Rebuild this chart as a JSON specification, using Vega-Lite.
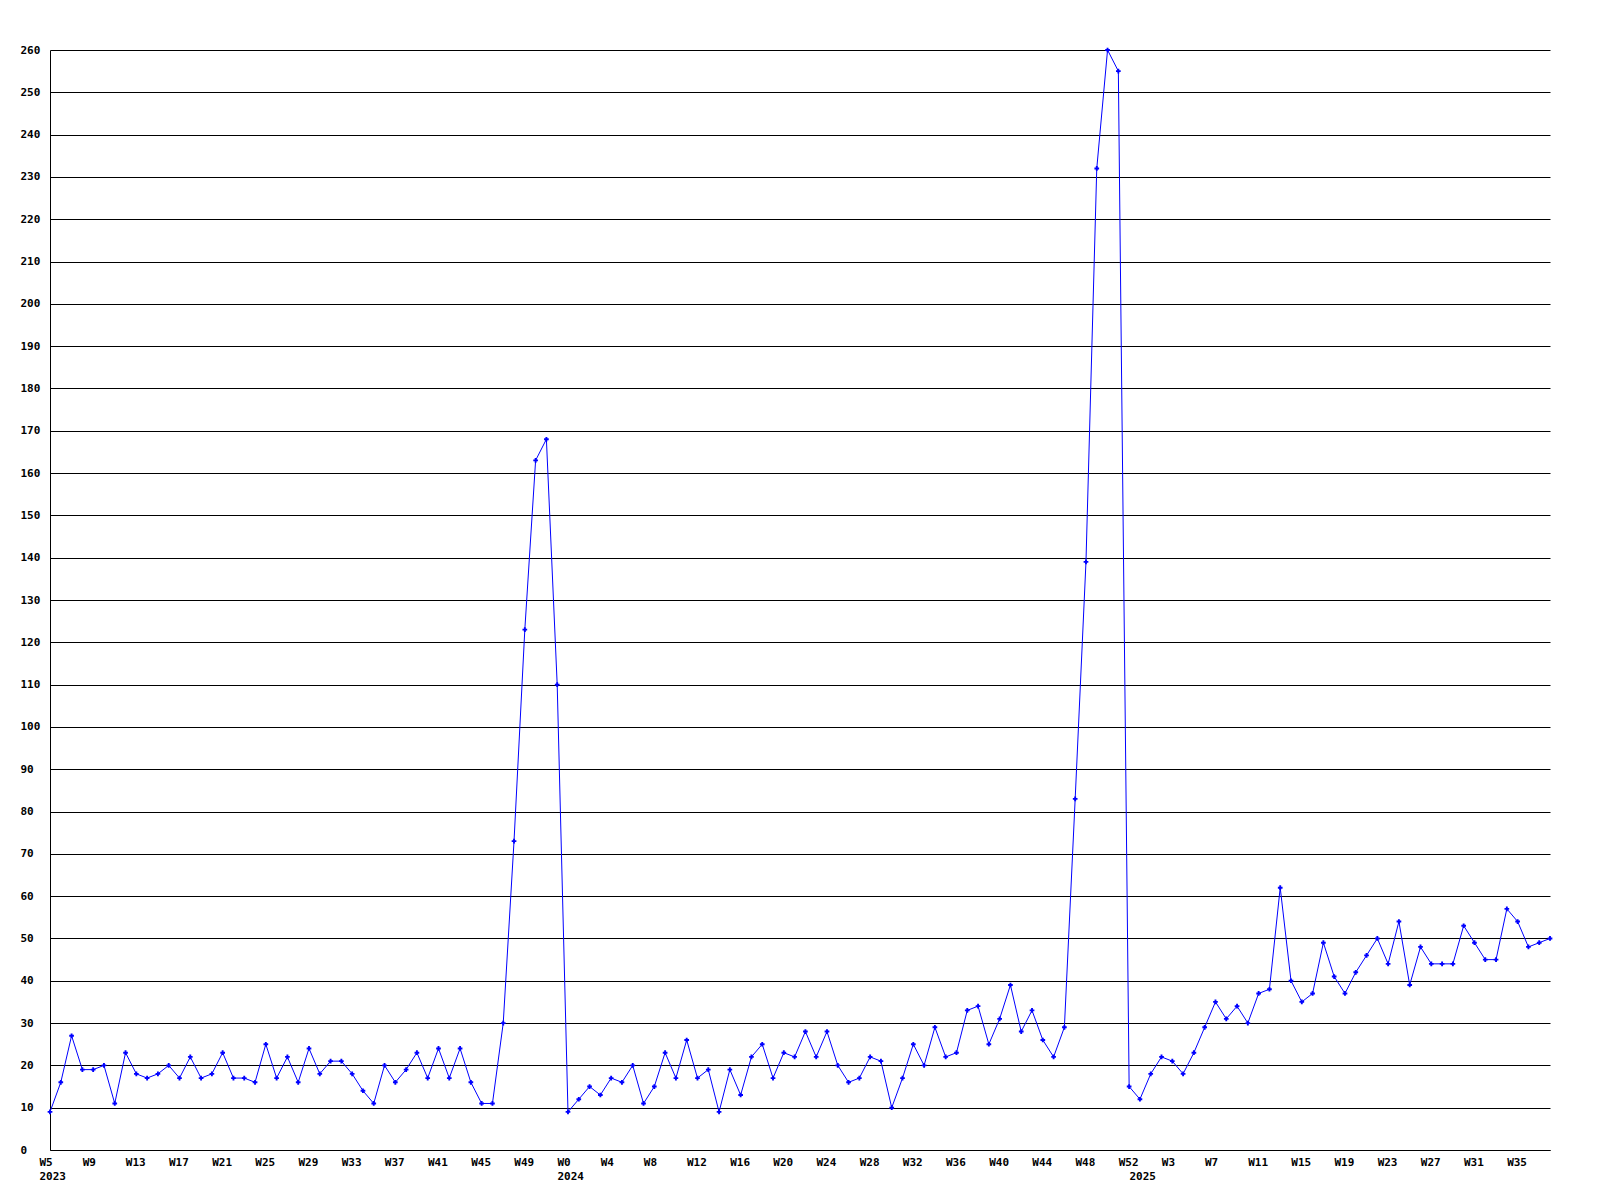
{
  "$schema": "https://vega.github.io/schema/vega-lite/v6.json",
  "width": 1500,
  "height": 1100,
  "autosize": {"type": "none"},
  "padding": {"left": 50, "top": 50, "right": 50, "bottom": 50},
  "background": "white",
  "config": {
    "view": {"stroke": null},
    "axis": {
      "labelFont": "DejaVu Sans Mono",
      "labelFontSize": 11,
      "labelFontWeight": "bold",
      "labelColor": "black",
      "domainColor": "black",
      "domainWidth": 1,
      "gridColor": "black",
      "gridOpacity": 1,
      "gridWidth": 1,
      "ticks": false,
      "tickSize": 0,
      "title": null
    }
  },
  "data": {
    "values": [
      {"week": "2023-W5", "count": 9}, {"week": "2023-W6", "count": 16}, {"week": "2023-W7", "count": 27}, {"week": "2023-W8", "count": 19},
      {"week": "2023-W9", "count": 19}, {"week": "2023-W10", "count": 20}, {"week": "2023-W11", "count": 11}, {"week": "2023-W12", "count": 23},
      {"week": "2023-W13", "count": 18}, {"week": "2023-W14", "count": 17}, {"week": "2023-W15", "count": 18}, {"week": "2023-W16", "count": 20},
      {"week": "2023-W17", "count": 17}, {"week": "2023-W18", "count": 22}, {"week": "2023-W19", "count": 17}, {"week": "2023-W20", "count": 18},
      {"week": "2023-W21", "count": 23}, {"week": "2023-W22", "count": 17}, {"week": "2023-W23", "count": 17}, {"week": "2023-W24", "count": 16},
      {"week": "2023-W25", "count": 25}, {"week": "2023-W26", "count": 17}, {"week": "2023-W27", "count": 22}, {"week": "2023-W28", "count": 16},
      {"week": "2023-W29", "count": 24}, {"week": "2023-W30", "count": 18}, {"week": "2023-W31", "count": 21}, {"week": "2023-W32", "count": 21},
      {"week": "2023-W33", "count": 18}, {"week": "2023-W34", "count": 14}, {"week": "2023-W35", "count": 11}, {"week": "2023-W36", "count": 20},
      {"week": "2023-W37", "count": 16}, {"week": "2023-W38", "count": 19}, {"week": "2023-W39", "count": 23}, {"week": "2023-W40", "count": 17},
      {"week": "2023-W41", "count": 24}, {"week": "2023-W42", "count": 17}, {"week": "2023-W43", "count": 24}, {"week": "2023-W44", "count": 16},
      {"week": "2023-W45", "count": 11}, {"week": "2023-W46", "count": 11}, {"week": "2023-W47", "count": 30}, {"week": "2023-W48", "count": 73},
      {"week": "2023-W49", "count": 123}, {"week": "2023-W50", "count": 163}, {"week": "2023-W51", "count": 168}, {"week": "2023-W52", "count": 110},
      {"week": "2024-W0", "count": 9}, {"week": "2024-W1", "count": 12}, {"week": "2024-W2", "count": 15}, {"week": "2024-W3", "count": 13},
      {"week": "2024-W4", "count": 17}, {"week": "2024-W5", "count": 16}, {"week": "2024-W6", "count": 20}, {"week": "2024-W7", "count": 11},
      {"week": "2024-W8", "count": 15}, {"week": "2024-W9", "count": 23}, {"week": "2024-W10", "count": 17}, {"week": "2024-W11", "count": 26},
      {"week": "2024-W12", "count": 17}, {"week": "2024-W13", "count": 19}, {"week": "2024-W14", "count": 9}, {"week": "2024-W15", "count": 19},
      {"week": "2024-W16", "count": 13}, {"week": "2024-W17", "count": 22}, {"week": "2024-W18", "count": 25}, {"week": "2024-W19", "count": 17},
      {"week": "2024-W20", "count": 23}, {"week": "2024-W21", "count": 22}, {"week": "2024-W22", "count": 28}, {"week": "2024-W23", "count": 22},
      {"week": "2024-W24", "count": 28}, {"week": "2024-W25", "count": 20}, {"week": "2024-W26", "count": 16}, {"week": "2024-W27", "count": 17},
      {"week": "2024-W28", "count": 22}, {"week": "2024-W29", "count": 21}, {"week": "2024-W30", "count": 10}, {"week": "2024-W31", "count": 17},
      {"week": "2024-W32", "count": 25}, {"week": "2024-W33", "count": 20}, {"week": "2024-W34", "count": 29}, {"week": "2024-W35", "count": 22},
      {"week": "2024-W36", "count": 23}, {"week": "2024-W37", "count": 33}, {"week": "2024-W38", "count": 34}, {"week": "2024-W39", "count": 25},
      {"week": "2024-W40", "count": 31}, {"week": "2024-W41", "count": 39}, {"week": "2024-W42", "count": 28}, {"week": "2024-W43", "count": 33},
      {"week": "2024-W44", "count": 26}, {"week": "2024-W45", "count": 22}, {"week": "2024-W46", "count": 29}, {"week": "2024-W47", "count": 83},
      {"week": "2024-W48", "count": 139}, {"week": "2024-W49", "count": 232}, {"week": "2024-W50", "count": 260}, {"week": "2024-W51", "count": 255},
      {"week": "2024-W52", "count": 15},
      {"week": "2025-W0", "count": 12}, {"week": "2025-W1", "count": 18}, {"week": "2025-W2", "count": 22}, {"week": "2025-W3", "count": 21},
      {"week": "2025-W4", "count": 18}, {"week": "2025-W5", "count": 23}, {"week": "2025-W6", "count": 29}, {"week": "2025-W7", "count": 35},
      {"week": "2025-W8", "count": 31}, {"week": "2025-W9", "count": 34}, {"week": "2025-W10", "count": 30}, {"week": "2025-W11", "count": 37},
      {"week": "2025-W12", "count": 38}, {"week": "2025-W13", "count": 62}, {"week": "2025-W14", "count": 40}, {"week": "2025-W15", "count": 35},
      {"week": "2025-W16", "count": 37}, {"week": "2025-W17", "count": 49}, {"week": "2025-W18", "count": 41}, {"week": "2025-W19", "count": 37},
      {"week": "2025-W20", "count": 42}, {"week": "2025-W21", "count": 46}, {"week": "2025-W22", "count": 50}, {"week": "2025-W23", "count": 44},
      {"week": "2025-W24", "count": 54}, {"week": "2025-W25", "count": 39}, {"week": "2025-W26", "count": 48}, {"week": "2025-W27", "count": 44},
      {"week": "2025-W28", "count": 44}, {"week": "2025-W29", "count": 44}, {"week": "2025-W30", "count": 53}, {"week": "2025-W31", "count": 49},
      {"week": "2025-W32", "count": 45}, {"week": "2025-W33", "count": 45}, {"week": "2025-W34", "count": 57}, {"week": "2025-W35", "count": 54},
      {"week": "2025-W36", "count": 48}, {"week": "2025-W37", "count": 49}, {"week": "2025-W38", "count": 50}
    ]
  },
  "encoding": {
    "x": {
      "field": "week",
      "type": "ordinal",
      "sort": null,
      "scale": {"type": "point", "padding": 0},
      "axis": {
        "grid": false,
        "values": ["2023-W5", "2023-W9", "2023-W13", "2023-W17", "2023-W21", "2023-W25", "2023-W29", "2023-W33", "2023-W37", "2023-W41", "2023-W45", "2023-W49",
                   "2024-W0", "2024-W4", "2024-W8", "2024-W12", "2024-W16", "2024-W20", "2024-W24", "2024-W28", "2024-W32", "2024-W36", "2024-W40", "2024-W44", "2024-W48", "2024-W52",
                   "2025-W0", "2025-W3", "2025-W7", "2025-W11", "2025-W15", "2025-W19", "2025-W23", "2025-W27", "2025-W31", "2025-W35"],
        "labelExpr": "datum.value == '2023-W5' ? ['W5', '2023'] : datum.value == '2024-W0' ? ['W0', '2024'] : datum.value == '2025-W0' ? ['', '2025'] : split(datum.value, '-')[1]",
        "labelAngle": 0,
        "labelAlign": "left",
        "labelBaseline": "top",
        "labelOffset": -11,
        "labelPadding": 6,
        "labelLineHeight": 14,
        "labelOverlap": false,
        "labelFlush": false,
        "labelBound": false
      }
    },
    "y": {
      "field": "count",
      "type": "quantitative",
      "scale": {"domain": [0, 260], "nice": false, "zero": true},
      "axis": {
        "grid": true,
        "values": [0, 10, 20, 30, 40, 50, 60, 70, 80, 90, 100, 110, 120, 130, 140, 150, 160, 170, 180, 190, 200, 210, 220, 230, 240, 250, 260],
        "labelAlign": "left",
        "labelBaseline": "middle",
        "labelPadding": 30,
        "labelOverlap": false,
        "labelFlush": false
      }
    }
  },
  "layer": [
    {"mark": {"type": "line", "color": "#0000ff", "strokeWidth": 1}},
    {"mark": {"type": "point", "shape": "cross", "filled": true, "color": "#0000ff", "size": 22, "opacity": 1}}
  ]
}
